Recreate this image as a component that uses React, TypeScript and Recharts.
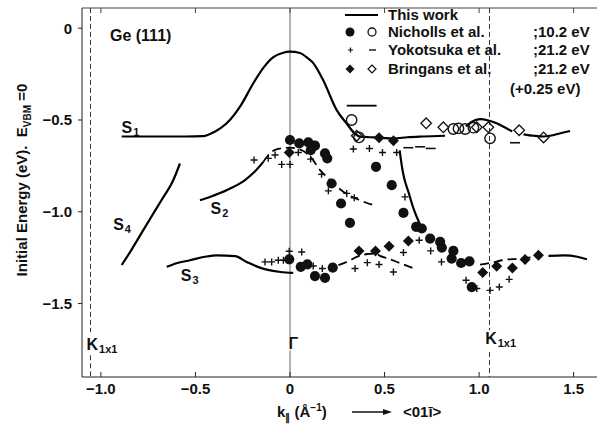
import { ComposedChart, Line, Scatter, XAxis, YAxis, ReferenceLine, ReferenceDot } from 'recharts';

// "This work" bands (solid) and the dashed stretches
const s1Main = [
  { x: -0.89, y: -0.59 }, { x: -0.7, y: -0.59 }, { x: -0.55, y: -0.59 }, { x: -0.46, y: -0.588 },
  { x: -0.4, y: -0.565 }, { x: -0.335, y: -0.518 }, { x: -0.26, y: -0.42 }, { x: -0.194, y: -0.3 },
  { x: -0.14, y: -0.215 }, { x: -0.088, y: -0.158 }, { x: -0.04, y: -0.135 }, { x: 0, y: -0.128 },
  { x: 0.053, y: -0.135 }, { x: 0.09, y: -0.16 }, { x: 0.122, y: -0.189 }, { x: 0.175, y: -0.282 },
  { x: 0.247, y: -0.446 }, { x: 0.3, y: -0.52 }, { x: 0.342, y: -0.573 }, { x: 0.37, y: -0.591 },
  { x: 0.45, y: -0.595 }, { x: 0.55, y: -0.6 }, { x: 0.62, y: -0.594 }, { x: 0.7, y: -0.59 },
  { x: 0.82, y: -0.586 },
];
const s1Bump = [
  { x: 0.93, y: -0.535 }, { x: 0.96, y: -0.51 }, { x: 1.005, y: -0.495 }, { x: 1.05, y: -0.503 },
  { x: 1.093, y: -0.518 }, { x: 1.146, y: -0.546 }, { x: 1.175, y: -0.562 },
];
const s1Tail = [
  { x: 1.235, y: -0.578 }, { x: 1.29, y: -0.586 }, { x: 1.34, y: -0.59 }, { x: 1.376, y: -0.586 },
  { x: 1.43, y: -0.572 }, { x: 1.481, y: -0.56 },
];
const s1Steep = [
  { x: 0.58, y: -0.665 }, { x: 0.587, y: -0.72 }, { x: 0.6, y: -0.8 }, { x: 0.626, y: -0.891 },
  { x: 0.653, y: -0.982 }, { x: 0.69, y: -1.075 },
];
const s2Solid = [
  { x: -0.476, y: -0.937 }, { x: -0.42, y: -0.918 }, { x: -0.37, y: -0.898 }, { x: -0.3, y: -0.865 },
  { x: -0.238, y: -0.827 }, { x: -0.19, y: -0.785 }, { x: -0.141, y: -0.728 },
];
const s2Dashed = [
  { x: -0.141, y: -0.728 }, { x: -0.097, y: -0.673 }, { x: -0.062, y: -0.658 }, { x: 0, y: -0.651 },
  { x: 0.07, y: -0.669 }, { x: 0.115, y: -0.709 }, { x: 0.159, y: -0.773 }, { x: 0.212, y: -0.827 },
  { x: 0.282, y: -0.891 }, { x: 0.37, y: -0.937 }, { x: 0.455, y: -0.968 },
];
const s3Solid = [
  { x: -0.652, y: -1.3 }, { x: -0.6, y: -1.28 }, { x: -0.529, y: -1.264 }, { x: -0.45, y: -1.245 },
  { x: -0.388, y: -1.237 }, { x: -0.29, y: -1.242 }, { x: -0.229, y: -1.273 }, { x: -0.17, y: -1.3 },
  { x: -0.123, y: -1.315 }, { x: -0.05, y: -1.328 }, { x: 0.017, y: -1.333 },
];
const s3MidDashed = [
  { x: 0.256, y: -1.291 }, { x: 0.31, y: -1.268 }, { x: 0.353, y: -1.246 }, { x: 0.41, y: -1.23 },
  { x: 0.455, y: -1.228 }, { x: 0.476, y: -1.24 }, { x: 0.52, y: -1.255 }, { x: 0.57, y: -1.275 },
  { x: 0.62, y: -1.295 }, { x: 0.67, y: -1.315 },
];
const s3RightDashed = [
  { x: 1.005, y: -1.288 }, { x: 1.067, y: -1.277 }, { x: 1.12, y: -1.264 }, { x: 1.208, y: -1.255 },
  { x: 1.27, y: -1.248 }, { x: 1.32, y: -1.24 },
];
const s3RightSolid = [
  { x: 1.367, y: -1.24 }, { x: 1.45, y: -1.237 }, { x: 1.52, y: -1.245 }, { x: 1.57, y: -1.259 },
];
const s4Solid = [
  { x: -0.89, y: -1.29 }, { x: -0.84, y: -1.21 }, { x: -0.776, y: -1.1 }, { x: -0.72, y: -1.005 },
  { x: -0.68, y: -0.937 }, { x: -0.617, y: -0.827 }, { x: -0.582, y: -0.737 },
];
const strayBar = [{ x: 0.3, y: -0.422 }, { x: 0.458, y: -0.422 }];

// Nicholls et al. (10.2 eV)
const nichollsFilled = [
  { x: 0, y: -0.609 }, { x: 0.049, y: -0.627 }, { x: 0.097, y: -0.622 }, { x: 0.132, y: -0.64 },
  { x: 0.11, y: -0.664 }, { x: 0.185, y: -0.682 }, { x: 0.197, y: -0.709 }, { x: 0.22, y: -0.846 },
  { x: 0.27, y: -0.955 }, { x: 0.317, y: -1.06 }, { x: 0.455, y: -0.755 }, { x: 0.538, y: -0.855 },
  { x: 0.6, y: -1.006 }, { x: 0.667, y: -1.082 }, { x: 0.697, y: -1.091 }, { x: 0.741, y: -1.146 },
  { x: 0.794, y: -1.164 }, { x: 0.803, y: -1.195 }, { x: 0.864, y: -1.213 }, { x: 0.855, y: -1.255 },
  { x: 0.905, y: -1.279 }, { x: 0.949, y: -1.27 }, { x: 0.961, y: -1.41 }, { x: -0.004, y: -1.259 },
  { x: 0.057, y: -1.3 }, { x: 0.092, y: -1.287 }, { x: 0.132, y: -1.35 }, { x: 0.185, y: -1.36 },
  { x: 0.226, y: -1.304 },
];
const nichollsOpen = [
  { x: 0.326, y: -0.5 }, { x: 0.365, y: -0.595 }, { x: 0.864, y: -0.549 }, { x: 0.891, y: -0.546 },
  { x: 0.926, y: -0.549 }, { x: 0.97, y: -0.542 }, { x: 1.058, y: -0.6 },
];

// Yokotsuka et al. (21.2 eV)
const yokoPlus = [
  { x: -0.19, y: -0.718 }, { x: -0.115, y: -0.709 }, { x: -0.079, y: -0.691 }, { x: -0.044, y: -0.742 },
  { x: 0, y: -0.742 }, { x: 0.044, y: -0.677 }, { x: 0.109, y: -0.713 }, { x: 0.167, y: -0.796 },
  { x: 0.203, y: -0.886 }, { x: 0.3, y: -0.9 }, { x: 0.34, y: -0.924 }, { x: 0.335, y: -0.658 },
  { x: 0.42, y: -0.655 }, { x: 0.489, y: -0.677 }, { x: 0.564, y: -0.677 }, { x: 0.608, y: -0.919 },
  { x: 0.683, y: -1.155 }, { x: 0.6, y: -1.222 }, { x: 0.744, y: -1.213 }, { x: 0.801, y: -1.273 },
  { x: 0.931, y: -1.373 }, { x: 0.988, y: -1.418 }, { x: 1.058, y: -1.428 }, { x: 1.107, y: -1.41 },
  { x: 1.159, y: -1.368 }, { x: -0.132, y: -1.273 }, { x: -0.097, y: -1.273 }, { x: -0.062, y: -1.264 },
  { x: -0.035, y: -1.264 }, { x: -0.004, y: -1.215 }, { x: 0.062, y: -1.219 }, { x: 0.123, y: -1.295 },
  { x: 0.171, y: -1.309 }, { x: 0.344, y: -1.309 }, { x: 0.409, y: -1.277 }, { x: 0.471, y: -1.287 },
  { x: 0.547, y: -1.328 },
];
const yokoDash = [
  { x: 0.626, y: -0.651 }, { x: 0.688, y: -0.646 }, { x: 0.744, y: -0.655 }, { x: 1.19, y: -0.624 },
];

// Bringans et al. (21.2 eV, +0.25 eV)
const bringansFilled = [
  { x: -0.004, y: -0.677 }, { x: 0.471, y: -0.597 }, { x: 0.547, y: -0.613 }, { x: 0.365, y: -1.213 },
  { x: 0.452, y: -1.213 }, { x: 0.524, y: -1.188 }, { x: 0.626, y: -1.159 }, { x: 1.019, y: -1.331 },
  { x: 1.093, y: -1.297 }, { x: 1.176, y: -1.306 }, { x: 1.243, y: -1.26 }, { x: 1.314, y: -1.237 },
];
const bringansOpen = [
  { x: 0.353, y: -0.586 }, { x: 0.72, y: -0.518 }, { x: 0.811, y: -0.54 }, { x: 0.988, y: -0.54 },
  { x: 1.049, y: -0.54 }, { x: 1.212, y: -0.556 }, { x: 1.341, y: -0.595 },
];

const xTicks = [-1, -0.5, 0, 0.5, 1, 1.5];
const yTicks = [0, -0.5, -1, -1.5];
const kPoint = 1.055;

// text tags placed in data space (left edge, vertical centre)
const tags = [
  { x: -0.952, y: -0.037, main: 'Ge (111)', sub: '' },
  { x: -0.891, y: -0.537, main: 'S', sub: '1' },
  { x: -0.42, y: -0.982, main: 'S', sub: '2' },
  { x: -0.578, y: -1.346, main: 'S', sub: '3' },
  { x: -0.935, y: -1.064, main: 'S', sub: '4' },
  { x: -1.076, y: -1.718, main: 'K', sub: '1x1' },
  { x: 1.032, y: -1.69, main: 'K', sub: '1x1' },
  { x: -0.008, y: -1.717, main: 'Γ', sub: '' },
];

const FONT = '"Liberation Sans", Arial, sans-serif';
const INK = '#111';

const fmt = (v: number) => (v === 0 ? '0' : (v < 0 ? '\u2212' : '') + Math.abs(v).toFixed(1));

const FilledCircle = (p: any) => <circle cx={p.cx} cy={p.cy} r={5.1} fill={INK} />;
const OpenCircle = (p: any) => <circle cx={p.cx} cy={p.cy} r={5.2} fill="none" stroke={INK} strokeWidth={1.4} />;
const Plus = (p: any) => (
  <path d={`M${p.cx - 3.5},${p.cy}h7M${p.cx},${p.cy - 3.5}v7`} stroke={INK} strokeWidth={1.4} />
);
const Dash = (p: any) => <path d={`M${p.cx - 5},${p.cy}h10`} stroke={INK} strokeWidth={1.6} />;
const diamond = (cx: number, cy: number, s: number) =>
  `M${cx},${cy - s}L${cx + s},${cy}L${cx},${cy + s}L${cx - s},${cy}Z`;
const FilledDiamond = (p: any) => <path d={diamond(p.cx, p.cy, 5.5)} fill={INK} />;
const OpenDiamond = (p: any) => <path d={diamond(p.cx, p.cy, 5.3)} fill="none" stroke={INK} strokeWidth={1.3} />;

const Tag = (p: any) => (
  <text x={p.cx} y={p.cy + 6} fontSize={16} fontWeight={700} fill={INK} fontFamily={FONT}>
    {p.main}
    {p.sub && (
      <tspan fontSize={11} dy={3} dx={1}>
        {p.sub}
      </tspan>
    )}
  </text>
);

const solid = { stroke: '#000', strokeWidth: 2.2, dot: false, isAnimationActive: false, type: 'monotone' as const };
const dashed = { ...solid, strokeWidth: 1.8, strokeDasharray: '9 5' };

export default function App() {
  return (
    <div style={{ position: 'absolute', left: 0, top: 0, width: 597, height: 425, overflow: 'hidden', background: '#fff', fontFamily: FONT }}>
      <ComposedChart width={610} height={425} margin={{ top: 7, right: 8, bottom: 18, left: 32 }}>
        <XAxis
          dataKey="x" type="number" domain={[-1.1, 1.65]} ticks={xTicks} allowDataOverflow
          tickFormatter={fmt} height={30} tickSize={-5} tickMargin={11}
          stroke="#222" tick={{ fill: INK, fontSize: 15, fontWeight: 700 }}
        />
        <XAxis
          xAxisId="top" orientation="top" dataKey="x" type="number" domain={[-1.1, 1.65]} ticks={xTicks}
          allowDataOverflow height={1} tickSize={-5} tickFormatter={() => ''} stroke="#444"
        />
        <YAxis
          dataKey="y" type="number" domain={[-1.9, 0.11]} ticks={yTicks} allowDataOverflow
          tickFormatter={fmt} width={50} tickSize={4} tickMargin={6}
          stroke="#222" tick={{ fill: INK, fontSize: 15, fontWeight: 700 }}
        />

        {/* Γ and K(1x1) guides, broken where their labels sit */}
        <ReferenceLine segment={[{ x: 0, y: 0.11 }, { x: 0, y: -1.682 }]} stroke="#666" strokeWidth={1} />
        <ReferenceLine segment={[{ x: 0, y: -1.755 }, { x: 0, y: -1.9 }]} stroke="#666" strokeWidth={1} />
        <ReferenceLine segment={[{ x: -kPoint, y: 0.11 }, { x: -kPoint, y: -1.655 }]} stroke="#333" strokeDasharray="5 3" />
        <ReferenceLine segment={[{ x: -kPoint, y: -1.782 }, { x: -kPoint, y: -1.9 }]} stroke="#333" strokeDasharray="5 3" />
        <ReferenceLine segment={[{ x: kPoint, y: 0.11 }, { x: kPoint, y: -1.646 }]} stroke="#333" strokeDasharray="5 3" />
        <ReferenceLine segment={[{ x: kPoint, y: -1.764 }, { x: kPoint, y: -1.9 }]} stroke="#333" strokeDasharray="5 3" />

        <Line data={s1Main} dataKey="y" {...solid} />
        <Line data={s1Bump} dataKey="y" {...solid} />
        <Line data={s1Tail} dataKey="y" {...solid} />
        <Line data={s1Steep} dataKey="y" {...solid} />
        <Line data={s2Solid} dataKey="y" {...solid} />
        <Line data={s2Dashed} dataKey="y" {...dashed} />
        <Line data={s3Solid} dataKey="y" {...solid} />
        <Line data={s3MidDashed} dataKey="y" {...dashed} />
        <Line data={s3RightDashed} dataKey="y" {...dashed} />
        <Line data={s3RightSolid} dataKey="y" {...solid} />
        <Line data={s4Solid} dataKey="y" {...solid} />
        <Line data={strayBar} dataKey="y" {...solid} type="linear" strokeWidth={1.8} />

        <Scatter data={nichollsFilled} dataKey="y" shape={FilledCircle} isAnimationActive={false} />
        <Scatter data={nichollsOpen} dataKey="y" shape={OpenCircle} isAnimationActive={false} />
        <Scatter data={yokoPlus} dataKey="y" shape={Plus} isAnimationActive={false} />
        <Scatter data={yokoDash} dataKey="y" shape={Dash} isAnimationActive={false} />
        <Scatter data={bringansFilled} dataKey="y" shape={FilledDiamond} isAnimationActive={false} />
        <Scatter data={bringansOpen} dataKey="y" shape={OpenDiamond} isAnimationActive={false} />

        {tags.map((t, i) => (
          <ReferenceDot key={i} x={t.x} y={t.y} r={0} shape={(p: any) => <Tag {...p} main={t.main} sub={t.sub} />} />
        ))}
      </ComposedChart>

      {/* legend and axis titles */}
      <svg width={597} height={425} style={{ position: 'absolute', left: 0, top: 0, pointerEvents: 'none' }} fontFamily={FONT} fontWeight={700} fill={INK}>
        <line x1={345} x2={378} y1={15} y2={15} stroke="#000" strokeWidth={2} />
        <text x={388} y={20} fontSize={15}>This work</text>
        <circle cx={350} cy={32} r={4.5} fill={INK} />
        <circle cx={372} cy={32} r={4} fill="none" stroke={INK} strokeWidth={1.3} />
        <text x={388} y={37} fontSize={15}>Nicholls et al.</text>
        <text x={533} y={37} fontSize={15}>;10.2 eV</text>
        <path d="M348,50h5M350.5,47.5v5" stroke={INK} strokeWidth={1.2} />
        <path d="M369,50h7" stroke={INK} strokeWidth={1.4} />
        <text x={388} y={55} fontSize={15}>Yokotsuka et al.</text>
        <text x={533} y={55} fontSize={15}>;21.2 eV</text>
        <path d={diamond(350, 69, 4.5)} fill={INK} />
        <path d={diamond(372, 69, 4)} fill="none" stroke={INK} strokeWidth={1.2} />
        <text x={388} y={74} fontSize={15}>Bringans et al.</text>
        <text x={533} y={74} fontSize={15}>;21.2 eV</text>
        <text x={510} y={94} fontSize={15}>(+0.25 eV)</text>

        <text transform="translate(27,180) rotate(-90)" textAnchor="middle" fontSize={15}>
          Initial Energy (eV).{'\u00a0\u00a0'}E<tspan fontSize={10} dy={4}>VBM</tspan>
          <tspan dy={-4}>{'\u00a0'}=0</tspan>
        </text>

        <text x={277} y={417} fontSize={15}>
          k<tspan fontSize={10} dy={4}>{'\u2225'}</tspan>
          <tspan dy={-4}>{'\u00a0'}(Å</tspan>
          <tspan fontSize={10} dy={-6}>{'\u22121'}</tspan>
          <tspan dy={6}>)</tspan>
        </text>
        <line x1={352} x2={386} y1={412} y2={412} stroke={INK} strokeWidth={1.4} />
        <path d="M392,412L383,409L383,415Z" fill={INK} />
        <text x={403} y={417} fontSize={15}>{'<01\u012b>'}</text>
      </svg>
    </div>
  );
}
